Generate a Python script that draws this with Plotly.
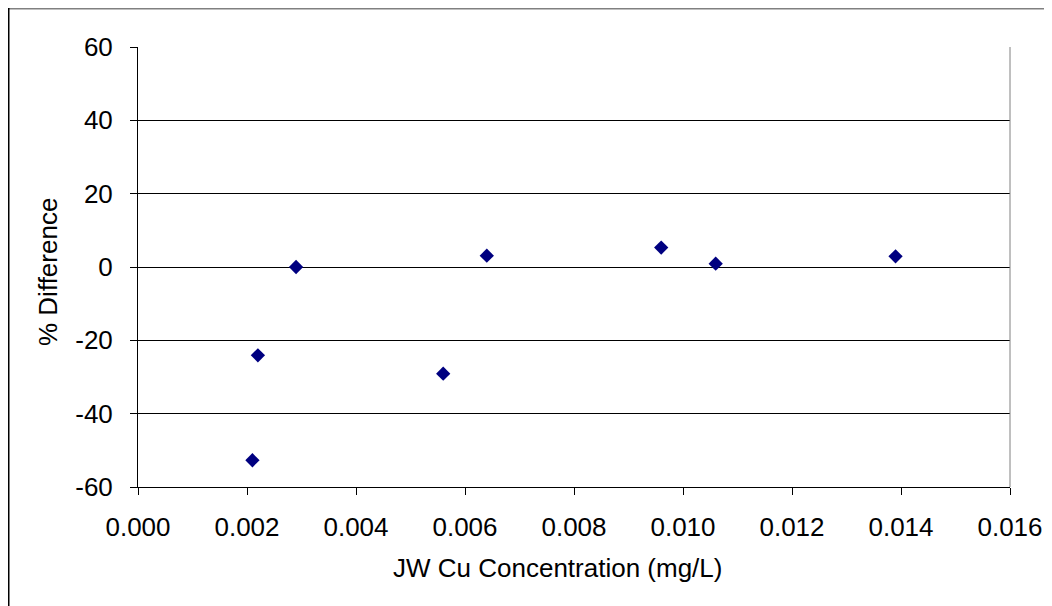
import plotly.graph_objects as go

# Data
cu_conc = [0.0021, 0.0022, 0.0029, 0.0056, 0.0064, 0.0096, 0.0106, 0.0139]
pct_diff = [-52.7, -24.1, 0.0, -29.1, 3.1, 5.3, 0.9, 2.9]

y_tick_vals = [-60, -40, -20, 0, 20, 40, 60]
y_tick_text = ["-60", "-40", "-20", "0", "20", "40", "60"]
x_tick_vals = [0.000, 0.002, 0.004, 0.006, 0.008, 0.010, 0.012, 0.014, 0.016]
x_title = "JW Cu Concentration (mg/L)"
y_title = "% Difference"

# The page body adds an 8px offset; plot area target on page: x 138..1010, y 47..487
OFF = 8
W, H = 1052, 606
L, T = 138 - OFF, 47 - OFF
pw, ph = 872, 440
R = W - L - pw
B = H - T - ph

def page_x(px):
    return (px - OFF - L) / pw

def page_y(py):
    return (T + ph - (py - OFF)) / ph

def fig_x(fx):
    return (fx - L) / pw

def fig_y(fy):
    return (T + ph - fy) / ph

fig = go.Figure()
fig.add_trace(go.Scatter(
    x=cu_conc, y=pct_diff, mode="markers",
    marker=dict(symbol="diamond", size=11, color="#000080", line=dict(width=0)),
    showlegend=False,
))

family = "Liberation Sans, Arial, sans-serif"
tick_font = dict(family=family, size=26, color="black")
title_font = dict(family=family, size=26, color="black")

fig.update_layout(
    width=W, height=H,
    margin=dict(l=L, r=R, t=T, b=B, pad=0),
    paper_bgcolor="white", plot_bgcolor="white",
    font=tick_font,
    xaxis=dict(
        range=[0, 0.016], tickvals=x_tick_vals, tickformat=".3f",
        showgrid=False, zeroline=False,
        showline=True, linecolor="black", linewidth=1,
        ticks="outside", ticklen=7, tickcolor="black", tickwidth=1,
        ticklabelstandoff=10,
        tickfont=tick_font,
    ),
    yaxis=dict(
        range=[-60, 60], tickvals=y_tick_vals, ticktext=y_tick_text,
        showgrid=True, gridcolor="black", gridwidth=1, zeroline=False,
        showline=True, linecolor="black", linewidth=1,
        ticks="outside", ticklen=7, tickcolor="black", tickwidth=1,
        ticklabelstandoff=12,
        tickfont=tick_font,
    ),
    annotations=[
        dict(text=x_title, xref="paper", yref="paper",
             x=page_x(557), y=page_y(568), xanchor="center", yanchor="middle",
             showarrow=False, font=title_font),
        dict(text=y_title, xref="paper", yref="paper", textangle=-90,
             x=page_x(48), y=page_y(272), xanchor="center", yanchor="middle",
             showarrow=False, font=title_font),
    ],
    shapes=[
        # right edge of plot area (gray)
        dict(type="line", xref="paper", yref="paper", x0=1, x1=1, y0=0, y1=1,
             line=dict(color="#808080", width=1)),
        # outer chart border: top (gray) and left (black)
        dict(type="line", xref="paper", yref="paper",
             x0=fig_x(0), x1=fig_x(W),
             y0=fig_y(0.75), y1=fig_y(0.75),
             line=dict(color="#808080", width=1.5)),
        dict(type="line", xref="paper", yref="paper",
             x0=fig_x(0.75), x1=fig_x(0.75),
             y0=fig_y(0), y1=fig_y(H),
             line=dict(color="black", width=1.5)),
    ],
)

fig.write_html("out.html")
